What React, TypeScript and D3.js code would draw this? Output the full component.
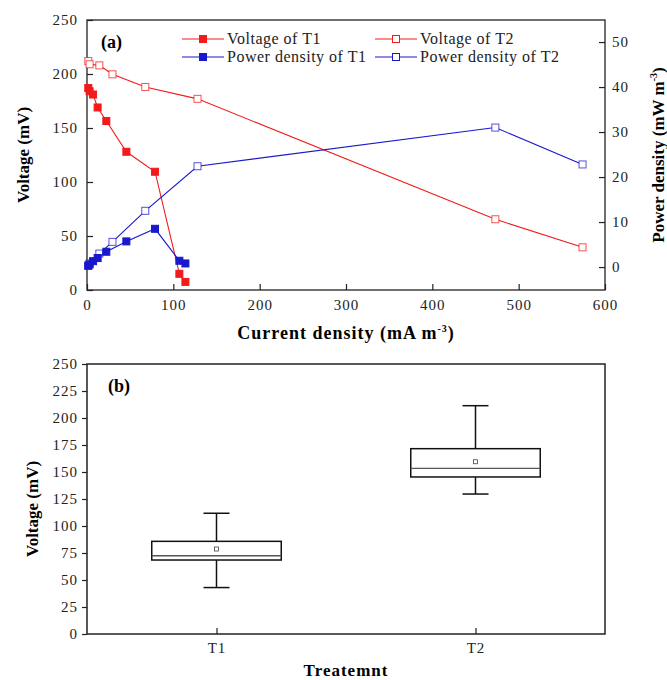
import * as d3 from "d3";
import {useEffect, useRef} from "react";

// (a) polarisation data
const t1Current = [1.5, 3, 7, 12.3, 22.4, 45.6, 78.8, 107, 114];
const t1Voltage = [187, 184, 181, 169, 156.5, 128, 109.5, 15, 7.5];
const t1Power = [0.3, 0.6, 1.3, 2.0, 3.4, 5.7, 8.5, 1.4, 0.8];

const t2Current = [1.5, 3, 14.3, 29.5, 67.5, 128, 473, 574];
const t2Voltage = [212, 209, 208, 199.7, 188, 177, 65.5, 39.5];
const t2Power = [0.3, 0.8, 3.0, 5.6, 12.5, 22.4, 31, 22.8];

// (b) box statistics per treatment
const treatments = ["T1", "T2"];
const boxMin = [43, 129.6];
const boxQ1 = [68.5, 145.4];
const boxMedian = [72.5, 153.4];
const boxQ3 = [85.8, 171.6];
const boxMax = [111.8, 211.4];
const boxMean = [78.7, 159.5];

const legendItems = [
	{label: "Voltage of T1", color: "#f21a1a", filled: true, col: 0, row: 0},
	{label: "Voltage of T2", color: "#f21a1a", filled: false, col: 1, row: 0},
	{label: "Power density of T1", color: "#1818cc", filled: true, col: 0, row: 1},
	{label: "Power density of T2", color: "#1818cc", filled: false, col: 1, row: 1},
];

const RED = "#f21a1a";
const BLUE = "#1818cc";
const FONT = "'Liberation Serif', 'Times New Roman', serif";

const App = () => {
	const svgRef = useRef<SVGSVGElement | null>(null);

	useEffect(() => {
		const svg = d3.select(svgRef.current);
		svg.selectAll("*").remove();

		const left = 87;
		const right = 605;

		// ---------- panel (a) ----------
		const aTop = 20;
		const aBottom = 290;
		const x = d3.scaleLinear().domain([0, 600]).range([left, right]);
		const yV = d3.scaleLinear().domain([0, 250]).range([aBottom, aTop]);
		const yP = d3.scaleLinear().domain([-5.1, 54.9]).range([aBottom, aTop]);

		const a = svg.append("g");

		const styleAxis = (g) => {
			g.selectAll(".domain").remove();
			g.selectAll(".tick line").attr("stroke", "#222").attr("stroke-width", 1.2);
			g.selectAll(".tick text")
				.attr("font-family", FONT)
				.attr("font-size", 15)
				.attr("letter-spacing", "1px")
				.attr("fill", "#222");
		};

		a.append("g")
			.attr("transform", `translate(0,${aBottom})`)
			.call(d3.axisBottom(x).ticks(6).tickSizeInner(-6).tickSizeOuter(0).tickPadding(9))
			.call(styleAxis);

		a.append("g")
			.attr("transform", `translate(${left},0)`)
			.call(d3.axisLeft(yV).ticks(5).tickSizeInner(-6).tickSizeOuter(0).tickPadding(9))
			.call(styleAxis);

		a.append("g")
			.attr("transform", `translate(${right},0)`)
			.call(d3.axisRight(yP).tickValues([0, 10, 20, 30, 40, 50]).tickSizeInner(-6).tickSizeOuter(0).tickPadding(7))
			.call(styleAxis);

		a.append("rect")
			.attr("x", left)
			.attr("y", aTop)
			.attr("width", right - left)
			.attr("height", aBottom - aTop)
			.attr("fill", "none")
			.attr("stroke", "#222")
			.attr("stroke-width", 1.3);

		const series = [
			{xs: t1Current, ys: t1Voltage, scale: yV, color: RED, filled: true},
			{xs: t2Current, ys: t2Voltage, scale: yV, color: RED, filled: false},
			{xs: t2Current, ys: t2Power, scale: yP, color: BLUE, filled: false},
			{xs: t1Current, ys: t1Power, scale: yP, color: BLUE, filled: true},
		];

		series.forEach((s) => {
			const pts = s.xs.map((c, i) => [c, s.ys[i]] as [number, number]);
			const line = d3
				.line<[number, number]>()
				.x((d) => x(d[0]))
				.y((d) => s.scale(d[1]));
			a.append("path")
				.attr("d", line(pts))
				.attr("fill", "none")
				.attr("stroke", s.color)
				.attr("stroke-width", 1.1);
			a.selectAll(null)
				.data(pts)
				.join("rect")
				.attr("x", (d) => x(d[0]) - 3.5)
				.attr("y", (d) => s.scale(d[1]) - 3.5)
				.attr("width", 7)
				.attr("height", 7)
				.attr("fill", s.filled ? s.color : "#fff")
				.attr("stroke", s.color)
				.attr("stroke-opacity", s.filled ? 1 : 0.75)
				.attr("stroke-width", 1);
		});

		a.append("text")
			.attr("x", 101)
			.attr("y", 48)
			.attr("font-family", FONT)
			.attr("font-weight", "bold")
			.attr("font-size", 18)
			.text("(a)");

		// legend
		const leg = a
			.selectAll(".leg")
			.data(legendItems)
			.join("g")
			.attr("transform", (d) => `translate(${d.col === 0 ? 182 : 375},${d.row === 0 ? 39 : 57})`);
		leg.append("line")
			.attr("x1", 0)
			.attr("x2", 42)
			.attr("stroke", (d) => d.color)
			.attr("stroke-width", 1.1);
		leg.append("rect")
			.attr("x", 17.5)
			.attr("y", -3.5)
			.attr("width", 7)
			.attr("height", 7)
			.attr("fill", (d) => (d.filled ? d.color : "#fff"))
			.attr("stroke", (d) => d.color)
			.attr("stroke-width", 1);
		leg.append("text")
			.attr("x", 45)
			.attr("dy", "0.33em")
			.attr("font-family", FONT)
			.attr("font-size", 16)
			.attr("letter-spacing", "0.5px")
			.attr("fill", "#222")
			.text((d) => d.label);

		// axis titles
		const xt = a
			.append("text")
			.attr("x", 346)
			.attr("y", 339)
			.attr("text-anchor", "middle")
			.attr("font-family", FONT)
			.attr("font-weight", "bold")
			.attr("font-size", 18)
			.attr("letter-spacing", "1px");
		xt.append("tspan").text("Current density (mA m");
		xt.append("tspan").attr("dy", -7).attr("font-size", 10).text("-3");
		xt.append("tspan").attr("dy", 7).text(")");

		a.append("text")
			.attr("transform", `translate(29,${(aTop + aBottom) / 2}) rotate(-90)`)
			.attr("text-anchor", "middle")
			.attr("font-family", FONT)
			.attr("font-weight", "bold")
			.attr("font-size", 17)
			.text("Voltage (mV)");

		const pt = a
			.append("text")
			.attr("transform", `translate(664,${(aTop + aBottom) / 2}) rotate(-90)`)
			.attr("text-anchor", "middle")
			.attr("font-family", FONT)
			.attr("font-weight", "bold")
			.attr("font-size", 17);
		pt.append("tspan").text("Power density (mW m");
		pt.append("tspan").attr("dy", -7).attr("font-size", 10).text("-3");
		pt.append("tspan").attr("dy", 7).text(")");

		// ---------- panel (b) ----------
		const bTop = 364;
		const bBottom = 634;
		const xb = d3.scalePoint().domain(treatments).range([left, right]).padding(0.5);
		const yb = d3.scaleLinear().domain([0, 250]).range([bBottom, bTop]);
		const boxW = (right - left) / 4;

		const b = svg.append("g");

		b.append("g")
			.attr("transform", `translate(0,${bBottom})`)
			.call(d3.axisBottom(xb).tickSizeInner(-6).tickSizeOuter(0).tickPadding(8))
			.call(styleAxis);

		b.append("g")
			.attr("transform", `translate(${left},0)`)
			.call(d3.axisLeft(yb).tickValues(d3.range(0, 251, 25)).tickSizeInner(5).tickSizeOuter(0).tickPadding(4))
			.call(styleAxis);

		b.append("rect")
			.attr("x", left)
			.attr("y", bTop)
			.attr("width", right - left)
			.attr("height", bBottom - bTop)
			.attr("fill", "none")
			.attr("stroke", "#222")
			.attr("stroke-width", 1.5);

		const boxes = b
			.selectAll(".box")
			.data(treatments)
			.join("g")
			.attr("transform", (d) => `translate(${xb(d)},0)`);

		boxes.append("line")
			.attr("y1", (_, i) => yb(boxMax[i]))
			.attr("y2", (_, i) => yb(boxQ3[i]))
			.attr("stroke", "#111")
			.attr("stroke-width", 1.5);
		boxes.append("line")
			.attr("y1", (_, i) => yb(boxQ1[i]))
			.attr("y2", (_, i) => yb(boxMin[i]))
			.attr("stroke", "#111")
			.attr("stroke-width", 1.5);
		boxes.append("line")
			.attr("x1", -13)
			.attr("x2", 13)
			.attr("y1", (_, i) => yb(boxMax[i]))
			.attr("y2", (_, i) => yb(boxMax[i]))
			.attr("stroke", "#111")
			.attr("stroke-width", 1.5);
		boxes.append("line")
			.attr("x1", -13)
			.attr("x2", 13)
			.attr("y1", (_, i) => yb(boxMin[i]))
			.attr("y2", (_, i) => yb(boxMin[i]))
			.attr("stroke", "#111")
			.attr("stroke-width", 1.5);
		boxes.append("rect")
			.attr("x", -boxW / 2)
			.attr("y", (_, i) => yb(boxQ3[i]))
			.attr("width", boxW)
			.attr("height", (_, i) => yb(boxQ1[i]) - yb(boxQ3[i]))
			.attr("fill", "#fff")
			.attr("stroke", "#111")
			.attr("stroke-width", 1.5);
		boxes.append("line")
			.attr("x1", -boxW / 2)
			.attr("x2", boxW / 2)
			.attr("y1", (_, i) => yb(boxMedian[i]))
			.attr("y2", (_, i) => yb(boxMedian[i]))
			.attr("stroke", "#555")
			.attr("stroke-width", 1.4);
		boxes.append("rect")
			.attr("x", -2)
			.attr("y", (_, i) => yb(boxMean[i]) - 2)
			.attr("width", 4)
			.attr("height", 4)
			.attr("fill", "#fff")
			.attr("stroke", "#444")
			.attr("stroke-width", 0.8);

		b.append("text")
			.attr("x", 108)
			.attr("y", 392)
			.attr("font-family", FONT)
			.attr("font-weight", "bold")
			.attr("font-size", 18)
			.text("(b)");

		b.append("text")
			.attr("transform", `translate(38,${(bTop + bBottom) / 2 + 10}) rotate(-90)`)
			.attr("text-anchor", "middle")
			.attr("font-family", FONT)
			.attr("font-weight", "bold")
			.attr("font-size", 17)
			.text("Voltage (mV)");

		b.append("text")
			.attr("x", 346)
			.attr("y", 676)
			.attr("text-anchor", "middle")
			.attr("font-family", FONT)
			.attr("font-weight", "bold")
			.attr("font-size", 17)
			.attr("letter-spacing", "1px")
			.text("Treatemnt");
	}, []);

	return (
		<svg
			ref={svgRef}
			width={667}
			height={680}
			style={{position: "absolute", left: 0, top: 0, background: "#fff"}}
		></svg>
	);
};

export default App;
